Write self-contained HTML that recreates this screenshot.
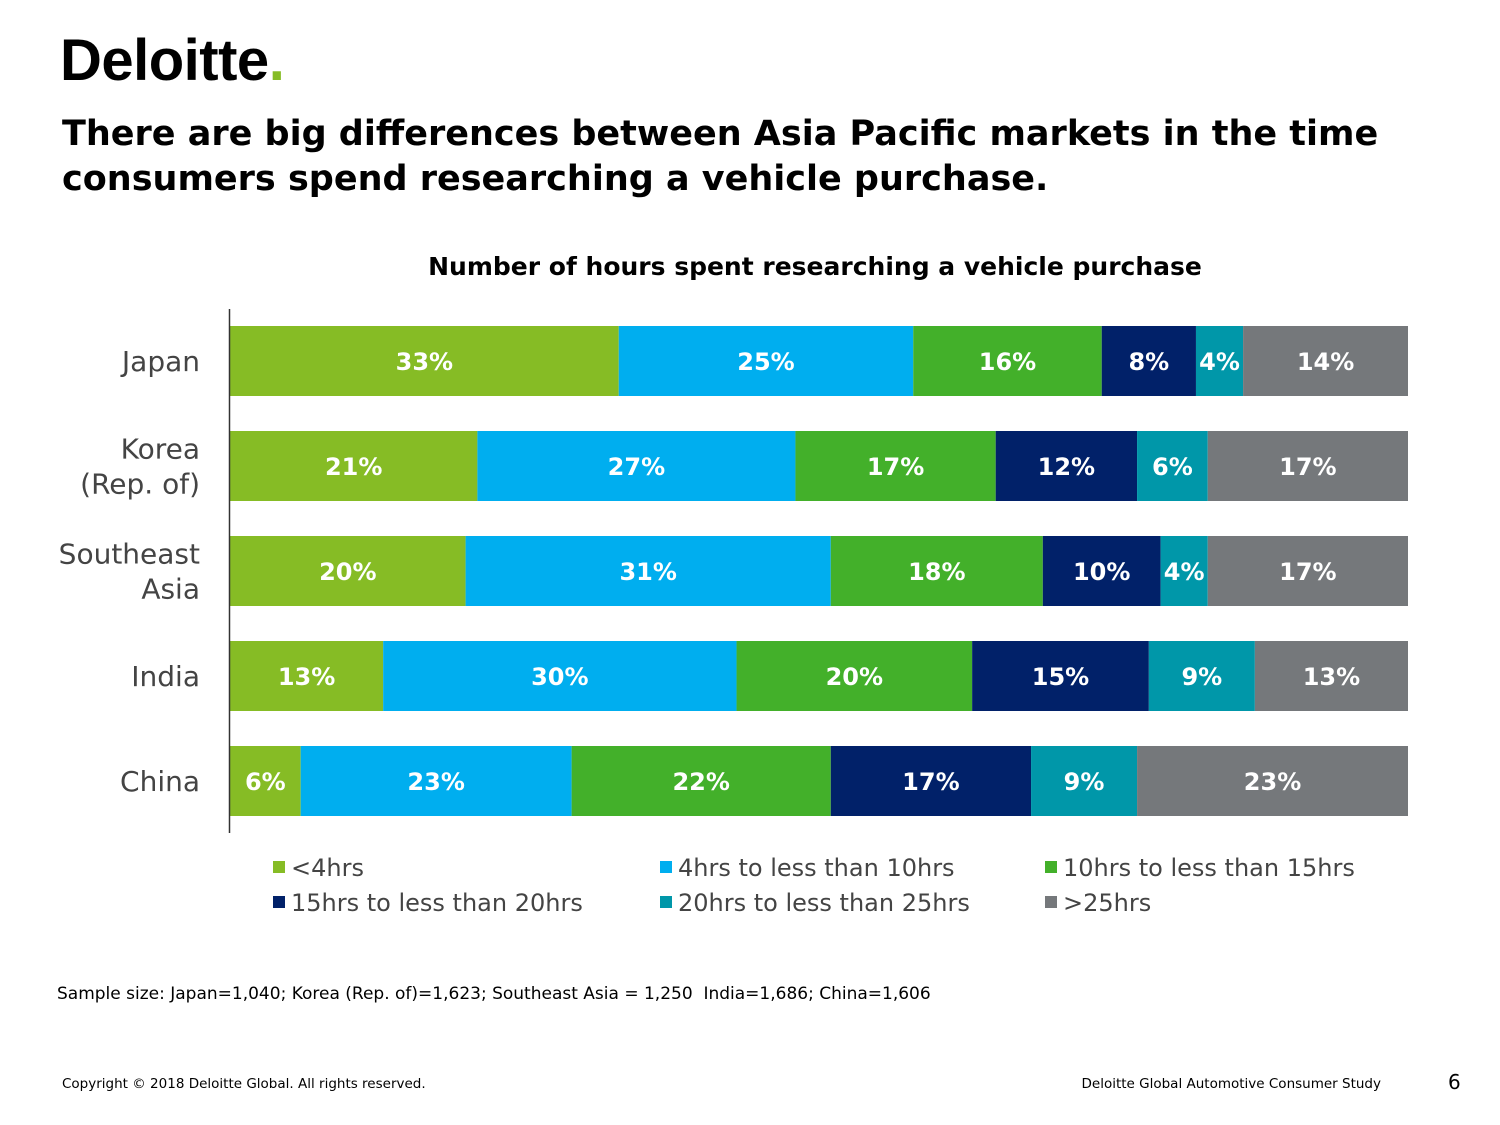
<!DOCTYPE html>
<html><head><meta charset="utf-8">
<style>
body{margin:0;width:1500px;height:1125px;background:#fff;font-family:"DejaVu Sans","Liberation Sans",sans-serif;position:relative;overflow:hidden;color:#000}
.abs{position:absolute;white-space:nowrap}
</style></head>
<body>
<div class="abs" style="left:60px;top:27px;font-size:58px;font-weight:bold;letter-spacing:-0.5px;font-family:'Liberation Sans',sans-serif">Deloitte<span style="color:#86bc25">.</span></div>
<div class="abs" style="left:62px;top:112px;font-size:35px;font-weight:bold;line-height:45px">There are big differences between Asia Pacific markets in the time<br>consumers spend researching a vehicle purchase.</div>
<div class="abs" style="left:0;width:1630px;text-align:center;top:252px;font-size:25px;font-weight:bold">Number of hours spent researching a vehicle purchase</div>
<svg class="abs" style="left:0;top:0" width="1500" height="1125" id="chart"></svg>
<div class="abs" style="left:57px;top:984px;font-size:17px">Sample size: Japan=1,040; Korea (Rep. of)=1,623; Southeast Asia = 1,250&nbsp; India=1,686; China=1,606</div>
<div class="abs" style="left:62px;top:1076px;font-size:13.5px">Copyright © 2018 Deloitte Global. All rights reserved.</div>
<div class="abs" style="right:119px;top:1076px;font-size:13.5px">Deloitte Global Automotive Consumer Study</div>
<div class="abs" style="left:1448px;top:1070px;font-size:20px">6</div>
<script>
const categories=[["Japan"],["Korea","(Rep. of)"],["Southeast","Asia"],["India"],["China"]];
const seriesNames=["<4hrs","4hrs to less than 10hrs","10hrs to less than 15hrs","15hrs to less than 20hrs","20hrs to less than 25hrs",">25hrs"];
const s1=[33,21,20,13,6];
const s2=[25,27,31,30,23];
const s3=[16,17,18,20,22];
const s4=[8,12,10,15,17];
const s5=[4,6,4,9,9];
const s6=[14,17,17,13,23];
const series=[s1,s2,s3,s4,s5,s6];
const colors=["#86bc25","#00aeef","#43b02a","#012169","#0097a9","#75787b"];
const NS="http://www.w3.org/2000/svg";
const svg=document.getElementById('chart');
const x0=230,x1=1408,rowTop=326,rowStep=105,barH=70;
function xScale(v,total){return (x1-x0)*v/total;}
function yScale(i){return rowTop+i*rowStep;}
function mk(t,a){const e=document.createElementNS(NS,t);for(const k in a)e.setAttribute(k,a[k]);svg.appendChild(e);return e;}
categories.forEach((cat,i)=>{
  const total=series.reduce((s,a)=>s+a[i],0);
  let x=x0;const y=yScale(i);
  series.forEach((arr,j)=>{
    const w=xScale(arr[i],total);
    const r=mk('rect',{x:x,y:y,width:w,height:barH,fill:colors[j]});
    
    
    const t=mk('text',{x:x+w/2,y:y+barH/2+9,'text-anchor':'middle',fill:'#fff','font-size':24,'font-weight':'bold','font-family':'DejaVu Sans,sans-serif'});
    t.textContent=arr[i]+'%';
    
    
    x+=w;
  });
  const lines=cat.length;
  cat.forEach((ln,k)=>{
    const t=mk('text',{x:200,y:y+barH/2+10+(k-(lines-1)/2)*35,'text-anchor':'end',fill:'#444','font-size':28,'font-family':'DejaVu Sans,sans-serif'});
    t.textContent=ln;
    
    
  });
});
const ax=mk('line',{x1:229.5,y1:309,x2:229.5,y2:833,stroke:'#333','stroke-width':1.5});


const legX=[273,660,1045];
seriesNames.forEach((n,j)=>{
  const lx=legX[j%3],ly=j<3?867:902;
  const r=mk('rect',{x:lx,y:ly-6,width:12,height:12,fill:colors[j]});
  
  
  const t=mk('text',{x:lx+18,y:ly+9,fill:'#444','font-size':24,'font-family':'DejaVu Sans,sans-serif'});
  t.textContent=n;
  
  
});
</script>
</body></html>
